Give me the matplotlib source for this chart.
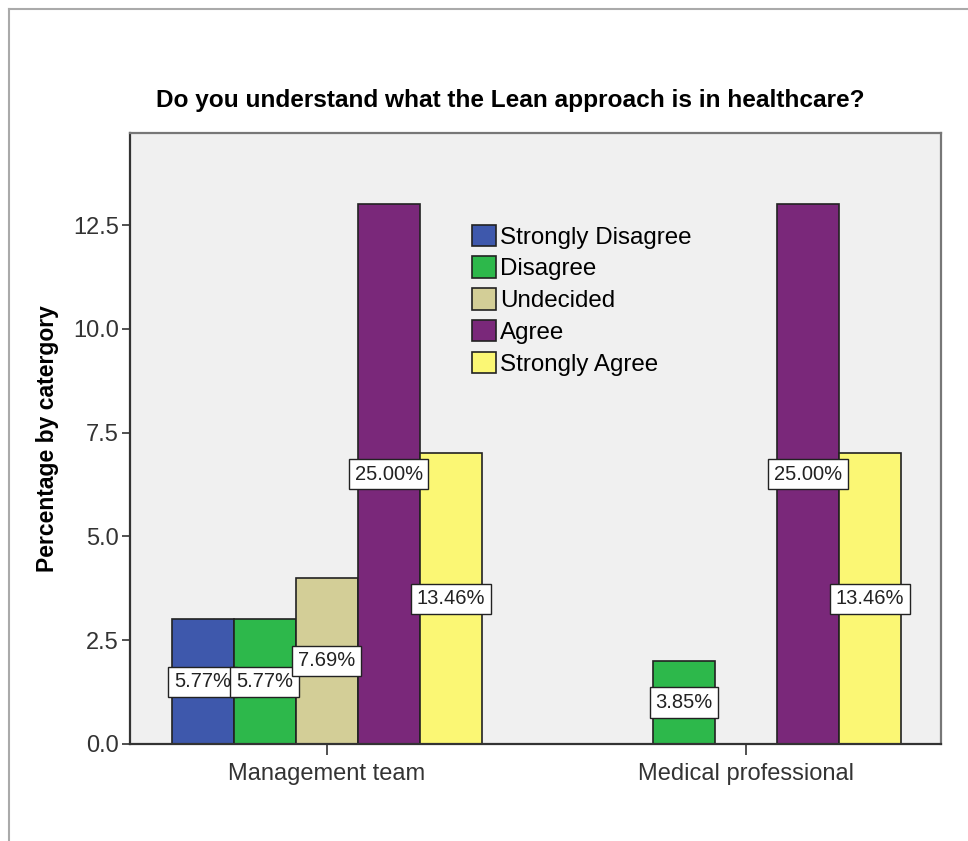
import numpy as np
import matplotlib
matplotlib.use("Agg")
import matplotlib.pyplot as plt
from matplotlib.lines import Line2D

# survey answers (counts) per group
groups = ["Management team", "Medical professional"]
categories = ["Strongly Disagree", "Disagree", "Undecided", "Agree", "Strongly Agree"]
mgmt = [3, 3, 4, 13, 7]
medical = [0, 2, 0, 13, 7]
colors = ["#3e58ac", "#2db84b", "#d3ce97", "#7a287a", "#fbf774"]

plt.rcParams['font.family'] = ['Liberation Sans', 'DejaVu Sans']

total = sum(mgmt) + sum(medical)
data = np.array([mgmt, medical])

fig = plt.figure(figsize=(9.68, 8.41), dpi=100)
ax = fig.add_axes([130/968, 97/841, 811/968, 611/841])
ax.set_facecolor("#f0f0f0")

x = np.arange(len(groups))
w = 0.148
for j, cat in enumerate(categories):
    for i in range(len(groups)):
        v = data[i, j]
        if v == 0:
            continue
        xp = x[i] + (j - 2) * w
        ax.bar(xp, v, width=w, color=colors[j], edgecolor="#222222", linewidth=1.2, zorder=2)
        ax.text(xp, v / 2, "%.2f%%" % (v / total * 100), ha="center", va="center",
                fontsize=14.5, color="#222222", zorder=4,
                bbox=dict(boxstyle="square,pad=0.28", fc="white", ec="#222222", lw=1.0))

ax.set_xlim(-0.469, 1.465)
ax.set_ylim(0, 14.72)
ax.set_yticks([0, 2.5, 5, 7.5, 10, 12.5])
ax.set_yticklabels(["%.1f" % t for t in [0, 2.5, 5, 7.5, 10, 12.5]])
ax.set_xticks(x)
ax.set_xticklabels(groups)
ax.tick_params(axis="y", length=6, width=1.2, color="#333333", labelsize=17, labelcolor="#333333", pad=2)
ax.tick_params(axis="x", length=8, width=1.2, color="#333333", labelsize=17, labelcolor="#333333", pad=6)
for s in ["left", "bottom"]:
    ax.spines[s].set_color("#333333")
    ax.spines[s].set_linewidth(1.6)
for s in ["top", "right"]:
    ax.spines[s].set_color("#777777")
    ax.spines[s].set_linewidth(1.6)

ax.set_ylabel("Percentage by catergory", fontsize=16.5, fontweight="bold", labelpad=10)
fig.text(510/968, 1 - 100/841, "Do you understand what the Lean approach is in healthcare?",
         ha="center", va="center", fontsize=17.6, fontweight="bold")

handles = [plt.Rectangle((0, 0), 1, 1, fc=c, ec="#222222", lw=1.2) for c in colors]
ax.legend(handles, categories, loc="upper left", bbox_to_anchor=(0.4217, 0.85),
          frameon=False, fontsize=17.4, handlelength=1.0, handleheight=0.97,
          handletextpad=0.15, labelspacing=0.33, borderpad=0, borderaxespad=0)

# outer frame of the screenshot
fig.add_artist(Line2D([9/968, 1], [1 - 9/841, 1 - 9/841], color="#aaaaaa", lw=1.5))
fig.add_artist(Line2D([9/968, 9/968], [0, 1 - 9/841], color="#aaaaaa", lw=1.5))

fig.savefig("out.png", dpi=100)
